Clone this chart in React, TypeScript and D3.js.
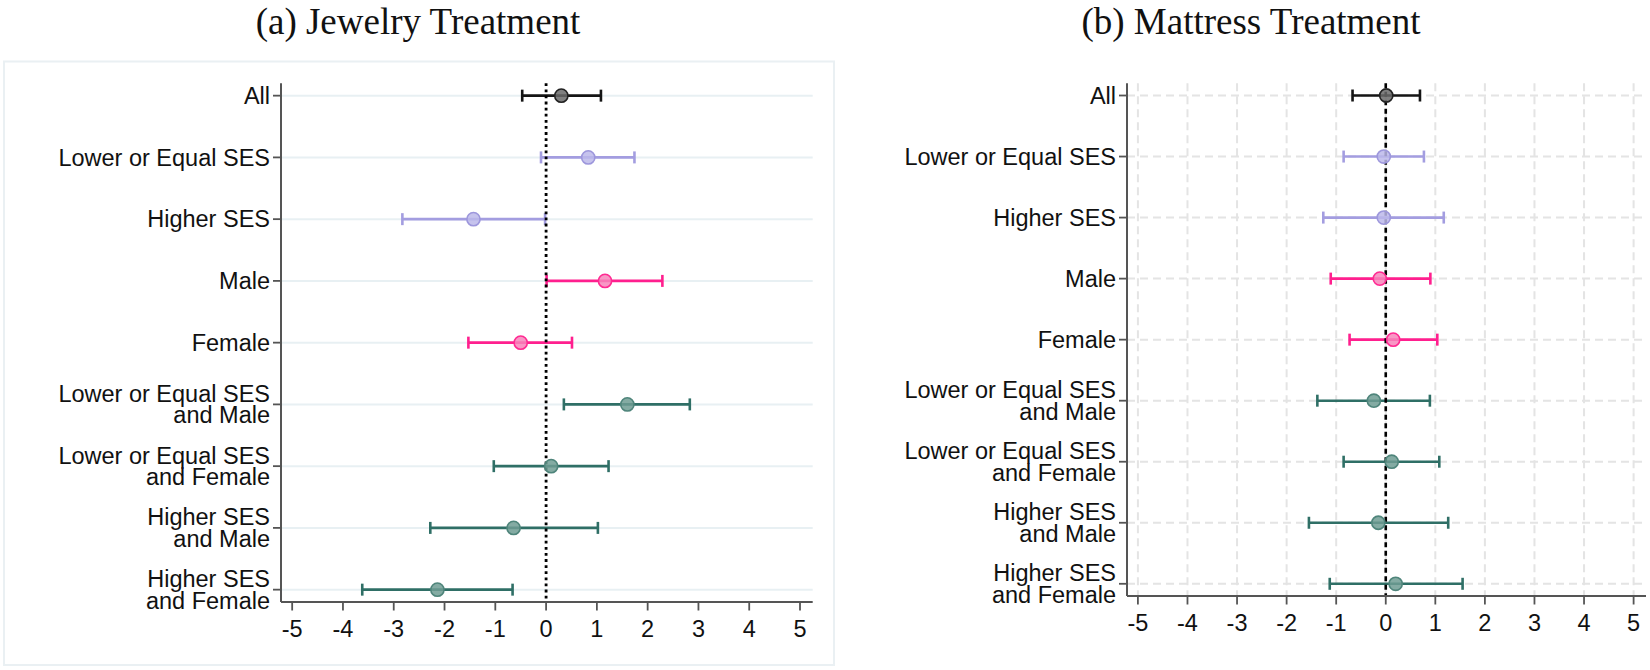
import * as d3 from 'd3';

// row labels (top to bottom), each entry split into lines
const categories = [
    ['All'],
    ['Lower or Equal SES'],
    ['Higher SES'],
    ['Male'],
    ['Female'],
    ['Lower or Equal SES', 'and Male'],
    ['Lower or Equal SES', 'and Female'],
    ['Higher SES', 'and Male'],
    ['Higher SES', 'and Female']
];
const groups = ['all', 'ses', 'ses', 'gender', 'gender', 'combo', 'combo', 'combo', 'combo'];

const jewelryEst = [0.3, 0.83, -1.43, 1.16, -0.5, 1.6, 0.1, -0.64, -2.14];
const jewelryLo = [-0.47, -0.1, -2.83, 0.01, -1.53, 0.35, -1.03, -2.28, -3.62];
const jewelryHi = [1.08, 1.74, -0.02, 2.29, 0.51, 2.83, 1.23, 1.02, -0.66];

const mattressEst = [0.01, -0.04, -0.04, -0.12, 0.15, -0.24, 0.12, -0.15, 0.2];
const mattressLo = [-0.67, -0.85, -1.26, -1.11, -0.73, -1.38, -0.85, -1.55, -1.13];
const mattressHi = [0.69, 0.77, 1.17, 0.9, 1.04, 0.89, 1.08, 1.26, 1.55];

const xTicks = [-5, -4, -3, -2, -1, 0, 1, 2, 3, 4, 5];
const xTickLabels = ['-5', '-4', '-3', '-2', '-1', '0', '1', '2', '3', '4', '5'];

const palette: Record<string, { line: string; fill: string; edge: string }> = {
    all: { line: '#151515', fill: '#6a6a6a', edge: '#222222' },
    ses: { line: '#a39de0', fill: '#bcb8ea', edge: '#9d97dc' },
    gender: { line: '#ff1f8e', fill: '#f785bb', edge: '#ff2a92' },
    combo: { line: '#2f6f66', fill: '#6f9c93', edge: '#4f857b' }
};

const labelFont = '"Liberation Sans", Arial, Helvetica, sans-serif';
const titleFont = '"Liberation Serif", "Times New Roman", serif';

type PanelProps = {
    title: string;
    titleX: number;
    left: number;
    right: number;
    top: number;
    bottom: number;
    est: number[];
    lo: number[];
    hi: number[];
    dashedGrid: boolean;
};

function Panel({ title, titleX, left, right, top, bottom, est, lo, hi, dashedGrid }: PanelProps) {
    const keys = categories.map((_, i) => String(i));
    const y = d3.scalePoint<string>().domain(keys).range([top, bottom]).padding(0.2);
    const x = d3.scaleLinear().domain([-5.22, 5.25]).range([left, right]);

    const gridColor = dashedGrid ? '#e4e4e4' : '#e8f0f3';

    return (
        <g>
            <text x={titleX} y={34} textAnchor="middle" fontFamily={titleFont} fontSize={37} fill="#111">
                {title}
            </text>

            {/* grid */}
            {dashedGrid &&
                xTicks.map((t) => (
                    <line
                        key={'v' + t}
                        x1={x(t)}
                        x2={x(t)}
                        y1={top}
                        y2={bottom}
                        stroke={gridColor}
                        strokeWidth={2}
                        strokeDasharray="8 5"
                    />
                ))}
            {keys.map((k) => (
                <line
                    key={'h' + k}
                    x1={left}
                    x2={right}
                    y1={y(k)}
                    y2={y(k)}
                    stroke={gridColor}
                    strokeWidth={2}
                    strokeDasharray={dashedGrid ? '8 5' : undefined}
                />
            ))}

            {/* error bars */}
            {keys.map((k, i) => {
                const c = palette[groups[i]];
                const cy = y(k)!;
                return (
                    <g key={'bar' + k}>
                        <line x1={x(lo[i])} x2={x(hi[i])} y1={cy} y2={cy} stroke={c.line} strokeWidth={2.6} />
                        <line x1={x(lo[i])} x2={x(lo[i])} y1={cy - 6} y2={cy + 6} stroke={c.line} strokeWidth={2.6} />
                        <line x1={x(hi[i])} x2={x(hi[i])} y1={cy - 6} y2={cy + 6} stroke={c.line} strokeWidth={2.6} />
                    </g>
                );
            })}

            {/* zero reference line */}
            <line
                x1={x(0)}
                x2={x(0)}
                y1={top}
                y2={bottom}
                stroke="#000"
                strokeWidth={dashedGrid ? 2.6 : 2.8}
                strokeDasharray={dashedGrid ? '5 3.5' : '2.8 3.3'}
            />

            {/* markers */}
            {keys.map((k, i) => {
                const c = palette[groups[i]];
                return (
                    <circle
                        key={'pt' + k}
                        cx={x(est[i])}
                        cy={y(k)}
                        r={6.6}
                        fill={c.fill}
                        fillOpacity={0.85}
                        stroke={c.edge}
                        strokeWidth={1.6}
                    />
                );
            })}

            {/* y axis */}
            <line x1={left} x2={left} y1={top} y2={bottom} stroke="#555" strokeWidth={2} />
            {keys.map((k, i) => {
                const cy = y(k)!;
                const lines = categories[i];
                const lh = 21.7;
                const start = cy - ((lines.length - 1) * lh) / 2;
                return (
                    <g key={'yl' + k}>
                        <line x1={left - 8} x2={left} y1={cy} y2={cy} stroke="#555" strokeWidth={1.8} />
                        <text
                            y={start}
                            textAnchor="end"
                            fontFamily={labelFont}
                            fontSize={23.5}
                            fill="#111"
                        >
                            {lines.map((s, j) => (
                                <tspan key={j} x={left - 11} dy={j === 0 ? '0.35em' : lh}>
                                    {s}
                                </tspan>
                            ))}
                        </text>
                    </g>
                );
            })}

            {/* x axis */}
            <line x1={left} x2={right} y1={bottom} y2={bottom} stroke="#555" strokeWidth={2} />
            {xTicks.map((t, i) => (
                <g key={'xt' + t}>
                    <line x1={x(t)} x2={x(t)} y1={bottom} y2={bottom + 8.5} stroke="#555" strokeWidth={1.8} />
                    <text
                        x={x(t)}
                        y={bottom + 27}
                        dy="0.35em"
                        textAnchor="middle"
                        fontFamily={labelFont}
                        fontSize={23.5}
                        fill="#111"
                    >
                        {xTickLabels[i]}
                    </text>
                </g>
            ))}
        </g>
    );
}

export default function App() {
    return (
        <div style={{ position: 'absolute', left: 0, top: 0 }}>
            <svg width={1650} height={670} style={{ display: 'block', background: '#fff' }}>
                {/* left panel frame */}
                <rect x={4} y={61.5} width={830} height={603.5} fill="#fff" stroke="#eaf0f3" strokeWidth={2} />
                <Panel
                    title="(a) Jewelry Treatment"
                    titleX={418}
                    left={281}
                    right={812.7}
                    top={83.3}
                    bottom={602}
                    est={jewelryEst}
                    lo={jewelryLo}
                    hi={jewelryHi}
                    dashedGrid={false}
                />
                <Panel
                    title="(b) Mattress Treatment"
                    titleX={1251}
                    left={1127}
                    right={1646}
                    top={83.3}
                    bottom={596}
                    est={mattressEst}
                    lo={mattressLo}
                    hi={mattressHi}
                    dashedGrid={true}
                />
            </svg>
        </div>
    );
}
